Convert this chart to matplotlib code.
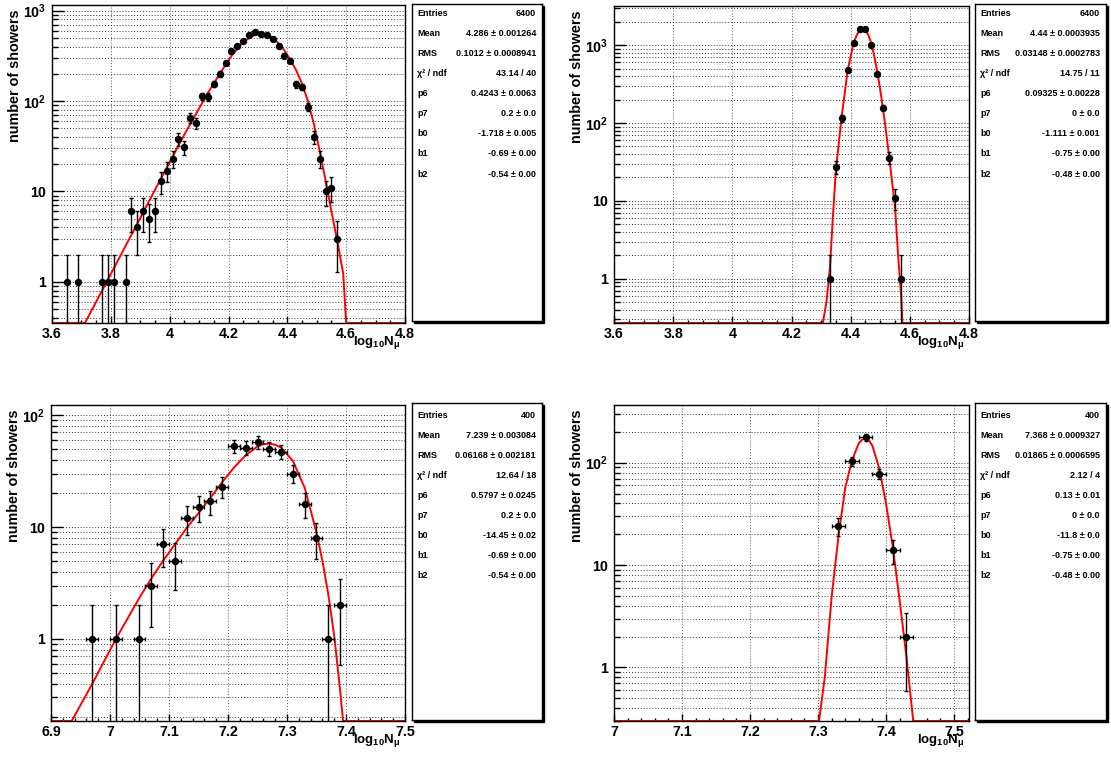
import numpy as np
import matplotlib
matplotlib.use('Agg')
import matplotlib.pyplot as plt
from matplotlib.ticker import FixedLocator, LogLocator, MultipleLocator, NullFormatter
from matplotlib.patches import Rectangle

plt.rcParams['font.family'] = ['Liberation Sans', 'DejaVu Sans']
plt.rcParams['font.weight'] = 'bold'
plt.rcParams['axes.labelweight'] = 'bold'
plt.rcParams['mathtext.fontset'] = 'custom'
plt.rcParams['mathtext.rm'] = 'Liberation Sans'
plt.rcParams['mathtext.bf'] = 'Liberation Sans:bold'
plt.rcParams['mathtext.it'] = 'Liberation Sans:italic'

# ---- histograms (bin centres, counts) ----
x1 = [3.65, 3.69, 3.77, 3.79, 3.81, 3.85, 3.87, 3.89, 3.91, 3.93, 3.95, 3.97, 3.99, 4.01,
      4.03, 4.05, 4.07, 4.09, 4.11, 4.13, 4.15, 4.17, 4.19, 4.21, 4.23, 4.25, 4.27, 4.29,
      4.31, 4.33, 4.35, 4.37, 4.39, 4.41, 4.43, 4.45, 4.47, 4.49, 4.51, 4.53, 4.55, 4.57]
n1 = [1, 1, 1, 1, 1, 1, 6, 4, 6, 5, 6, 13, 17, 23,
      38, 31, 65, 57, 113, 112, 154, 200, 264, 359, 405, 460, 537, 574,
      546, 537, 480, 405, 319, 281, 153, 144, 86, 40, 23, 10, 11, 3]

x2 = [4.33, 4.35, 4.37, 4.39, 4.41, 4.43, 4.45, 4.47, 4.49, 4.51, 4.53, 4.55, 4.57]
n2 = [1, 27, 115, 473, 1052, 1592, 1600, 991, 424, 158, 36, 11, 1]

x3 = [6.97, 7.01, 7.05, 7.07, 7.09, 7.11, 7.13, 7.15, 7.17, 7.19,
      7.21, 7.23, 7.25, 7.27, 7.29, 7.31, 7.33, 7.35, 7.37, 7.39]
n3 = [1, 1, 1, 3, 7, 5, 12, 15, 17, 23, 53, 51, 57, 50, 47, 30, 16, 8, 1, 2]

x4 = [7.33, 7.35, 7.37, 7.39, 7.41, 7.43]
n4 = [24, 104, 178, 78, 14, 2]

# ---- fitted functions (sampled) ----
fx1 = [3.712, 3.75, 3.80, 3.85, 3.90, 3.95, 4.00, 4.05, 4.10, 4.13, 4.17, 4.21, 4.25, 4.29,
       4.31, 4.33, 4.35, 4.37, 4.39, 4.41, 4.43, 4.45, 4.47, 4.49, 4.51, 4.53, 4.55, 4.57,
       4.59, 4.60]
fy1 = [0.35, 0.60, 1.22, 2.49, 5.08, 10.4, 21.1, 42.7, 83, 123, 200, 316, 452, 543,
       562, 543, 501, 437, 363, 288, 219, 155, 100, 56, 28, 13.2, 6.0, 2.8,
       1.23, 0.35]

fx2 = [4.306, 4.318, 4.33, 4.34, 4.35, 4.36, 4.37, 4.38, 4.39, 4.40, 4.41, 4.42, 4.43,
       4.44, 4.45, 4.46, 4.47, 4.48, 4.49, 4.50, 4.51, 4.52, 4.53, 4.54, 4.55, 4.56,
       4.57, 4.575]
fy2 = [0.27, 0.5, 1.4, 6.3, 25, 56, 125, 244, 478, 715, 1070, 1330, 1530,
       1620, 1560, 1340, 1050, 720, 455, 265, 145, 75, 37, 17.5, 8.3, 2.1,
       0.64, 0.27]

fx3 = [6.935, 6.97, 7.01, 7.05, 7.07, 7.09, 7.11, 7.13, 7.15, 7.17, 7.19, 7.21, 7.23,
       7.25, 7.26, 7.27, 7.28, 7.29, 7.31, 7.33, 7.35, 7.36, 7.37, 7.38, 7.39, 7.395]
fy3 = [0.185, 0.398, 1.0, 2.34, 3.47, 5.0, 7.0, 9.8, 13.3, 18.2, 25.1, 33.9, 43.7,
       52.5, 55.0, 55.6, 54.3, 51.3, 38.9, 22.4, 8.9, 5.0, 2.5, 1.07, 0.35, 0.185]

fx4 = [7.3015, 7.31, 7.32, 7.33, 7.34, 7.35, 7.36, 7.365, 7.37, 7.375, 7.38, 7.39,
       7.40, 7.41, 7.42, 7.43, 7.44]
fy4 = [0.3, 0.81, 4.9, 19, 57, 106, 155, 168, 172, 165, 146, 88,
       40, 15, 4.5, 1.27, 0.3]

# ---- stat boxes ----
stats1 = [('Entries', '6400'), ('Mean', '4.286 ± 0.001264'), ('RMS', '0.1012 ± 0.0008941'),
          ('χ² / ndf', '43.14 / 40'), ('p6', '0.4243 ± 0.0063'), ('p7', '0.2 ± 0.0'),
          ('b0', '-1.718 ± 0.005'), ('b1', '-0.69 ± 0.00'), ('b2', '-0.54 ± 0.00')]
stats2 = [('Entries', '6400'), ('Mean', '4.44 ± 0.0003935'), ('RMS', '0.03148 ± 0.0002783'),
          ('χ² / ndf', '14.75 / 11'), ('p6', '0.09325 ± 0.00228'), ('p7', '0 ± 0.0'),
          ('b0', '-1.111 ± 0.001'), ('b1', '-0.75 ± 0.00'), ('b2', '-0.48 ± 0.00')]
stats3 = [('Entries', '400'), ('Mean', '7.239 ± 0.003084'), ('RMS', '0.06168 ± 0.002181'),
          ('χ² / ndf', '12.64 / 18'), ('p6', '0.5797 ± 0.0245'), ('p7', '0.2 ± 0.0'),
          ('b0', '-14.45 ± 0.02'), ('b1', '-0.69 ± 0.00'), ('b2', '-0.54 ± 0.00')]
stats4 = [('Entries', '400'), ('Mean', '7.368 ± 0.0009327'), ('RMS', '0.01865 ± 0.0006595'),
          ('χ² / ndf', '2.12 / 4'), ('p6', '0.13 ± 0.01'), ('p7', '0 ± 0.0'),
          ('b0', '-11.8 ± 0.0'), ('b1', '-0.75 ± 0.00'), ('b2', '-0.48 ± 0.00')]

xt_a = [3.6, 3.8, 4.0, 4.2, 4.4, 4.6, 4.8]
xl_a = ['3.6', '3.8', '4', '4.2', '4.4', '4.6', '4.8']
xt_b = [6.9, 7.0, 7.1, 7.2, 7.3, 7.4, 7.5]
xl_b = ['6.9', '7', '7.1', '7.2', '7.3', '7.4', '7.5']
xt_c = [7.0, 7.1, 7.2, 7.3, 7.4, 7.5]
xl_c = ['7', '7.1', '7.2', '7.3', '7.4', '7.5']
yt_a = [1, 10, 100, 1000]
yl_a = ['1', '10', r'$\mathbf{10^{2}}$', r'$\mathbf{10^{3}}$']
yt_b = [1, 10, 100]
yl_b = ['1', '10', r'$\mathbf{10^{2}}$']

W, H = 1111, 760
fig = plt.figure(figsize=(W / 100, H / 100), dpi=100)


def box(l, t, r, b):
    return [l / W, 1 - b / H, (r - l) / W, (b - t) / H]


dots = (0, (1, 2))


def panel(frame, x, n, fx, fy, xlim, ylim, xt, xl, xminor, yt, yl, xerr=None):
    ax = fig.add_axes(box(*frame))
    ax.set_yscale('log')
    ax.set_xlim(xlim)
    ax.set_ylim(ylim)

    # function drawn along the bottom edge outside its range
    cx = np.concatenate([[xlim[0]], fx, [xlim[1]]])
    cy = np.concatenate([[ylim[0]], fy, [ylim[0]]])
    ax.plot(cx, cy, color='red', lw=1.4, zorder=2)

    n = np.asarray(n, float)
    ax.errorbar(x, n, yerr=np.sqrt(n), xerr=xerr, fmt='o', color='black', ms=4.3,
                lw=1, capsize=1.5, zorder=3)

    ax.xaxis.set_major_locator(FixedLocator(xt))
    ax.set_xticklabels(xl)
    ax.xaxis.set_minor_locator(MultipleLocator(xminor))
    ax.yaxis.set_major_locator(FixedLocator(yt))
    ax.set_yticklabels(yl)
    ax.yaxis.set_minor_locator(LogLocator(base=10, subs=np.arange(2, 10)))
    ax.yaxis.set_minor_formatter(NullFormatter())

    ax.tick_params(which='both', direction='in', top=False, right=False, width=1)
    ax.tick_params(axis='y', which='major', length=8.6, pad=4, labelsize=10.3)
    ax.tick_params(axis='y', which='minor', length=4.3)
    ax.tick_params(axis='x', which='major', length=5, pad=3, labelsize=10.3)
    ax.tick_params(axis='x', which='minor', length=2.5)

    ax.grid(True, axis='x', which='major', ls=dots, lw=0.7, color='0.35')
    ax.grid(True, axis='y', which='both', ls=dots, lw=0.7, color='0.2')
    for s in ax.spines.values():
        s.set_linewidth(1)

    ax.set_ylabel('number of showers', fontsize=10.4, loc='top')
    ax.yaxis.set_label_coords(-0.085, 0.985)
    ax.set_xlabel(r'$\mathbf{log}_{\mathbf{10}}\mathbf{N}_{\mathrm{μ}}$', fontsize=9.5, loc='right')
    ax.xaxis.set_label_coords(0.986, -0.035)
    return ax


def stat_box(frame, rows, first, step=20.1):
    l, t, r, b = frame
    shadow = Rectangle(((l + 2) / W, 1 - (b + 2) / H), (r - l) / W, (b - t) / H,
                       transform=fig.transFigure, color='black', zorder=-1)
    fig.patches.append(shadow)
    sax = fig.add_axes(box(*frame))
    sax.set_xticks([])
    sax.set_yticks([])
    for s in sax.spines.values():
        s.set_linewidth(1)
    for i, (name, val) in enumerate(rows):
        y = 1 - (first + i * step) / H
        fig.text((l + 5) / W, y, name, fontsize=6.5, va='center', ha='left')
        fig.text((r - 6) / W, y, val, fontsize=6.5, va='center', ha='right')


panel((52, 5, 405, 323), x1, n1, fx1, fy1, (3.6, 4.8), (0.35, 1156),
      xt_a, xl_a, 0.05, yt_a, yl_a)
panel((614, 6, 969, 323), x2, n2, fx2, fy2, (3.6, 4.8), (0.27, 3180),
      xt_a, xl_a, 0.05, yt_a, yl_a)
panel((51, 405, 405, 721), x3, n3, fx3, fy3, (6.9, 7.5), (0.185, 123),
      xt_b, xl_b, 0.02, yt_b, yl_b, xerr=0.01)
panel((614, 405, 969, 721), x4, n4, fx4, fy4, (7.0, 7.522), (0.3, 366),
      xt_c, xl_c, 0.02, yt_b, yl_b, xerr=0.01)

stat_box((412, 4, 542, 321), stats1, 13.3)
stat_box((975, 4, 1106, 321), stats2, 13.3)
stat_box((412, 403, 542, 720), stats3, 415)
stat_box((975, 403, 1106, 720), stats4, 415)

fig.savefig('out.png', dpi=100)
